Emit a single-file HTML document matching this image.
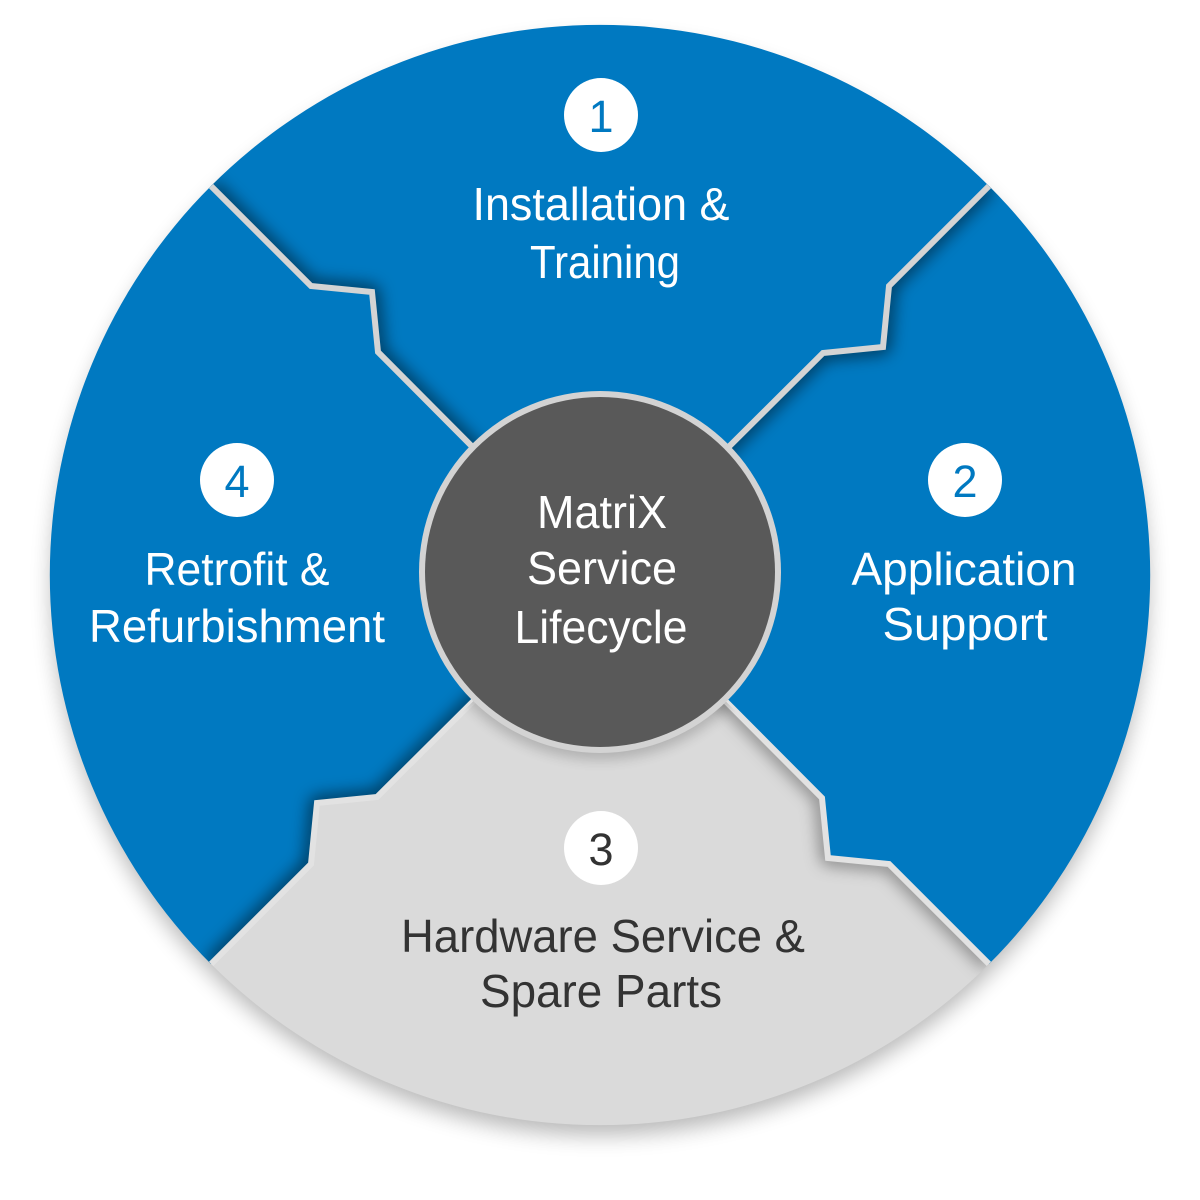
<!DOCTYPE html>
<html>
<head>
<meta charset="utf-8">
<style>
  html, body { margin: 0; padding: 0; background: #ffffff; }
  body { width: 1200px; height: 1200px; overflow: hidden; }
  svg { display: block; }
  text { font-family: "Liberation Sans", Arial, sans-serif; }
</style>
</head>
<body>
<svg width="1200" height="1200" viewBox="0 0 1200 1200" xmlns="http://www.w3.org/2000/svg">
  <defs>
    <filter id="outerBlur" x="-20%" y="-20%" width="140%" height="140%">
      <feGaussianBlur stdDeviation="11"/>
    </filter>
    <filter id="shBlur" x="-20%" y="-20%" width="140%" height="140%">
      <feGaussianBlur stdDeviation="8"/>
    </filter>
    <filter id="innerBlur" x="-20%" y="-20%" width="140%" height="140%">
      <feGaussianBlur stdDeviation="6"/>
    </filter>
    <clipPath id="c1"><path d="M600,575 L378,352 L372,292 L311,286 L211,186 A550,550 0 0,1 989,186 L889,286 L883,347 L823,353 Z"/></clipPath>
    <clipPath id="c2"><path d="M600,575 L823,353 L883,347 L889,286 L989,186 A550,550 0 0,1 989,964 L889,864 L828,858 L822,798 Z"/></clipPath>
    <clipPath id="c3"><path d="M600,575 L822,798 L828,858 L889,864 L989,964 A550,550 0 0,1 211,964 L311,864 L317,803 L377,797 Z"/></clipPath>
    <clipPath id="c4"><path d="M600,575 L377,797 L317,803 L311,864 L211,964 A550,550 0 0,1 211,186 L311,286 L372,292 L378,352 Z"/></clipPath>
    <clipPath id="big"><circle cx="600" cy="575" r="550"/></clipPath>
  </defs>

  <!-- outer drop shadow -->
  <circle cx="600" cy="587" r="548" fill="#000" opacity="0.28" filter="url(#outerBlur)"/>

  <!-- segments -->
  <path d="M600,575 L378,352 L372,292 L311,286 L211,186 A550,550 0 0,1 989,186 L889,286 L883,347 L823,353 Z" fill="#0079c1"/>
  <path d="M600,575 L823,353 L883,347 L889,286 L989,186 A550,550 0 0,1 989,964 L889,864 L828,858 L822,798 Z" fill="#0079c1"/>
  <path d="M600,575 L822,798 L828,858 L889,864 L989,964 A550,550 0 0,1 211,964 L311,864 L317,803 L377,797 Z" fill="#dadada"/>
  <path d="M600,575 L377,797 L317,803 L311,864 L211,964 A550,550 0 0,1 211,186 L311,286 L372,292 L378,352 Z" fill="#0079c1"/>

  <!-- divider shadows -->
  <g clip-path="url(#c1)">
    <polyline points="211,186 311,286 372,292 378,352 600,575" fill="none" stroke="#000" stroke-opacity="0.55" stroke-width="14" stroke-linejoin="round" filter="url(#shBlur)"/>
  </g>
  <g clip-path="url(#c2)">
    <polyline points="989,186 889,286 883,347 823,353 600,575" fill="none" stroke="#000" stroke-opacity="0.55" stroke-width="14" stroke-linejoin="round" filter="url(#shBlur)"/>
  </g>
  <g clip-path="url(#c3)">
    <polyline points="989,964 889,864 828,858 822,798 600,575" fill="none" stroke="#000" stroke-opacity="0.4" stroke-width="14" stroke-linejoin="round" filter="url(#shBlur)"/>
  </g>
  <g clip-path="url(#c4)">
    <polyline points="211,964 311,864 317,803 377,797 600,575" fill="none" stroke="#000" stroke-opacity="0.55" stroke-width="14" stroke-linejoin="round" filter="url(#shBlur)"/>
  </g>

  <!-- divider lines -->
  <g clip-path="url(#big)" fill="none" stroke-width="6" stroke-linejoin="miter">
    <polyline points="211,186 311,286 372,292 378,352 600,575" stroke="#d4d4d4"/>
    <polyline points="989,186 889,286 883,347 823,353 600,575" stroke="#d4d4d4"/>
    <polyline points="989,964 889,864 828,858 822,798 600,575" stroke="#e2e2e2"/>
    <polyline points="211,964 311,864 317,803 377,797 600,575" stroke="#e2e2e2"/>
  </g>

  <!-- inner circle -->
  <g clip-path="url(#c3)">
    <circle cx="600" cy="578" r="182" fill="#000" opacity="0.18" filter="url(#innerBlur)"/>
  </g>
  <circle cx="600" cy="572" r="181" fill="#d3d3d3"/>
  <circle cx="600" cy="572" r="175" fill="#595959"/>

  <!-- center text -->
  <g fill="#ffffff" font-size="46" text-anchor="middle">
    <text x="602" y="528" textLength="130" lengthAdjust="spacingAndGlyphs">MatriX</text>
    <text x="602" y="584" textLength="150" lengthAdjust="spacingAndGlyphs">Service</text>
    <text x="601" y="643" textLength="173" lengthAdjust="spacingAndGlyphs">Lifecycle</text>
  </g>

  <!-- badges -->
  <circle cx="601" cy="115" r="37" fill="#ffffff"/>
  <circle cx="965" cy="480" r="37" fill="#ffffff"/>
  <circle cx="601" cy="848" r="37" fill="#ffffff"/>
  <circle cx="237" cy="480" r="37" fill="#ffffff"/>
  <g font-size="45" text-anchor="middle">
    <text x="601" y="132" fill="#0079c1">1</text>
    <text x="965" y="497" fill="#0079c1">2</text>
    <text x="601" y="865" fill="#333333">3</text>
    <text x="237" y="497" fill="#0079c1">4</text>
  </g>

  <!-- segment labels -->
  <g fill="#ffffff" font-size="46" text-anchor="middle">
    <text x="601" y="220" textLength="257" lengthAdjust="spacingAndGlyphs">Installation &amp;</text>
    <text x="605" y="278" textLength="150" lengthAdjust="spacingAndGlyphs">Training</text>
    <text x="964" y="585" textLength="225" lengthAdjust="spacingAndGlyphs">Application</text>
    <text x="965" y="640" textLength="165" lengthAdjust="spacingAndGlyphs">Support</text>
    <text x="237" y="585" textLength="185" lengthAdjust="spacingAndGlyphs">Retrofit &amp;</text>
    <text x="237" y="642" textLength="296" lengthAdjust="spacingAndGlyphs">Refurbishment</text>
  </g>
  <g fill="#333333" font-size="46" text-anchor="middle">
    <text x="603" y="952" textLength="404" lengthAdjust="spacingAndGlyphs">Hardware Service &amp;</text>
    <text x="601" y="1007" textLength="242" lengthAdjust="spacingAndGlyphs">Spare Parts</text>
  </g>
</svg>
</body>
</html>
